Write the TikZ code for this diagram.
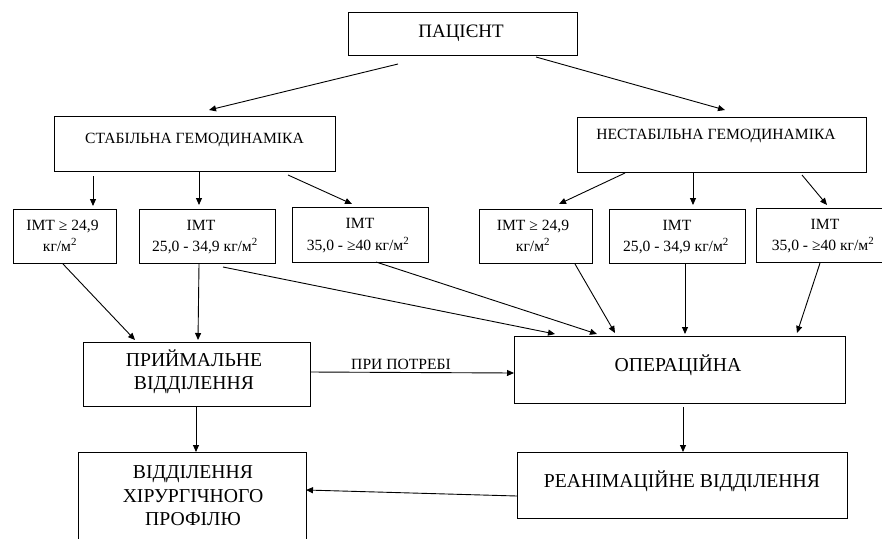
\documentclass[tikz,border=0pt]{standalone}
\usepackage{fontspec}
\setmainfont{Liberation Serif}
\usetikzlibrary{arrows.meta}
\begin{document}
\begin{tikzpicture}[x=1pt,y=-1pt,
  box/.style={draw,line width=1pt,inner sep=0pt,outer sep=0pt},
  arr/.style={line width=0.9pt,-{Triangle[length=7pt,width=6pt]}},
  big/.style={font=\fontsize{19.7}{23}\selectfont},
  pat/.style={font=\fontsize{19}{21}\selectfont},
  mid/.style={font=\fontsize{15.6}{18}\selectfont},
  txt/.style={inner sep=0pt,anchor=base}]
\useasboundingbox (0,0) rectangle (882,538);
% boxes
\node[box,minimum width=229pt,minimum height=43pt] (pac) at (462.5,33.5) {};
\node[box,minimum width=281pt,minimum height=55pt] (stab) at (194.5,143.5) {};
\node[box,minimum width=289pt,minimum height=55pt] (nstab) at (721.5,144.5) {};
\node[box,minimum width=103pt,minimum height=54pt] (i1) at (64.5,236) {};
\node[box,minimum width=136pt,minimum height=54pt] (i2) at (207,236) {};
\node[box,minimum width=136pt,minimum height=55pt] (i3) at (360,234.5) {};
\node[box,minimum width=113pt,minimum height=54pt] (i4) at (535.5,236) {};
\node[box,minimum width=136pt,minimum height=54pt] (i5) at (677,236) {};
\node[box,minimum width=134pt,minimum height=54pt] (i6) at (823,235) {};
\node[box,minimum width=227pt,minimum height=64pt] (priy) at (196.5,374) {};
\node[box,minimum width=331pt,minimum height=67pt] (oper) at (679.5,369.5) {};
\node[box,minimum width=228pt,minimum height=108pt] (vidd) at (192,506) {};
\node[box,minimum width=330pt,minimum height=66pt] (rean) at (682,485) {};
% texts
\node[txt,pat] (pact) at (461,37) {ПАЦІЄНТ};
\node[txt,mid] (stabt) at (194.5,143) {СТАБІЛЬНА ГЕМОДИНАМІКА};
\node[txt,mid] (nstabt) at (716,139) {НЕСТАБІЛЬНА ГЕМОДИНАМІКА};
\node[txt,mid] (i1a) at (62.5,230) {IMT ≥ 24,9};
\node[txt,mid] (i1b) at (60,251) {кг/м\textsuperscript{2}};
\node[txt,mid] (i2a) at (201,230) {IMT};
\node[txt,mid] (i2b) at (205,251) {25,0 - 34,9 кг/м\textsuperscript{2}};
\node[txt,mid] (i3a) at (360,228) {IMT};
\node[txt,mid] (i3b) at (358,250) {35,0 - ≥40 кг/м\textsuperscript{2}};
\node[txt,mid] (i4a) at (533,230) {IMT ≥ 24,9};
\node[txt,mid] (i4b) at (533,251) {кг/м\textsuperscript{2}};
\node[txt,mid] (i5a) at (677,230) {IMT};
\node[txt,mid] (i5b) at (676,251) {25,0 - 34,9 кг/м\textsuperscript{2}};
\node[txt,mid] (i6a) at (825,229) {IMT};
\node[txt,mid] (i6b) at (823,250) {35,0 - ≥40 кг/м\textsuperscript{2}};
\node[txt,big] (priya) at (194,366) {ПРИЙМАЛЬНЕ};
\node[txt,big] (priyb) at (194,389) {ВІДДІЛЕННЯ};
\node[txt,mid] (potr) at (401,369) {ПРИ ПОТРЕБІ};
\node[txt,big] (opert) at (678,371) {ОПЕРАЦІЙНА};
\node[txt,big] (vidda) at (193,478) {ВІДДІЛЕННЯ};
\node[txt,big] (viddb) at (193,502) {ХІРУРГІЧНОГО};
\node[txt,big] (viddc) at (193,525) {ПРОФІЛЮ};
\node[txt,big] (reant) at (682,487) {РЕАНІМАЦІЙНЕ ВІДДІЛЕННЯ};
% connector ends
\coordinate (a1s) at (398,64);  \coordinate (a1e) at (209,110);
\coordinate (a2s) at (536,57);  \coordinate (a2e) at (725,110);
\coordinate (s1s) at (93,176);  \coordinate (s1e) at (93,206);
\coordinate (s2s) at (199,171); \coordinate (s2e) at (199,205);
\coordinate (s3s) at (288,175); \coordinate (s3e) at (352,204);
\coordinate (n1s) at (625,173); \coordinate (n1e) at (559,204);
\coordinate (n2s) at (693,172); \coordinate (n2e) at (693,205);
\coordinate (n3s) at (802,175); \coordinate (n3e) at (827,205);
\coordinate (p1s) at (63,264);  \coordinate (p1e) at (135,340);
\coordinate (p2s) at (199,264); \coordinate (p2e) at (198,340);
\coordinate (o1s) at (223,267); \coordinate (o1e) at (555,334);
\coordinate (o2s) at (376,262); \coordinate (o2e) at (597,334);
\coordinate (o3s) at (575,264); \coordinate (o3e) at (615,333);
\coordinate (o4s) at (685,263); \coordinate (o4e) at (685,334);
\coordinate (o5s) at (820,263); \coordinate (o5e) at (797,333);
\coordinate (pos) at (310,372); \coordinate (poe) at (514,373);
\coordinate (pvs) at (196,406); \coordinate (pve) at (196,452);
\coordinate (ors) at (683,407); \coordinate (ore) at (683,452);
\coordinate (rvs) at (517,496); \coordinate (rve) at (306,490);
% connectors
\draw[arr] (a1s) -- (a1e);
\draw[arr] (a2s) -- (a2e);
\draw[arr] (s1s) -- (s1e);
\draw[arr] (s2s) -- (s2e);
\draw[arr] (s3s) -- (s3e);
\draw[arr] (n1s) -- (n1e);
\draw[arr] (n2s) -- (n2e);
\draw[arr] (n3s) -- (n3e);
\draw[arr] (p1s) -- (p1e);
\draw[arr] (p2s) -- (p2e);
\draw[arr] (o1s) -- (o1e);
\draw[arr] (o2s) -- (o2e);
\draw[arr] (o3s) -- (o3e);
\draw[arr] (o4s) -- (o4e);
\draw[arr] (o5s) -- (o5e);
\draw[arr] (pos) -- (poe);
\draw[arr] (pvs) -- (pve);
\draw[arr] (ors) -- (ore);
\draw[arr] (rvs) -- (rve);
\end{tikzpicture}
\end{document}
